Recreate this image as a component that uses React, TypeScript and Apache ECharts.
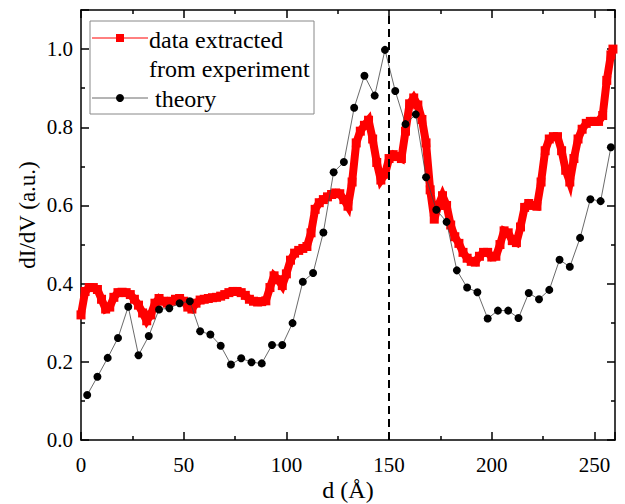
import React, { useEffect, useRef } from "react";
import * as echarts from "echarts";

const expX = [0,2,4,6,8,10,12,14,16,18,20,22,24,26,28,30,32,34,36,38,40,42,44,46,48,50,52,54,56,58,60,62,64,66,68,70,72,74,76,78,80,82,84,86,88,90,92,94,96,98,100,102,104,106,108,110,112,114,116,118,120,122,124,126,128,130,132,134,136,138,140,142,144,146,148,150,152,154,156,158,160,162,164,166,168,170,172,174,176,178,180,182,184,186,188,190,192,194,196,198,200,202,204,206,208,210,212,214,216,218,220,222,224,226,228,230,232,234,236,238,240,242,244,246,248,250,252,254,256,258,259];
const expY = [0.32,0.38,0.39,0.39,0.385,0.36,0.335,0.34,0.365,0.377,0.378,0.377,0.372,0.36,0.345,0.325,0.305,0.32,0.35,0.362,0.355,0.35,0.355,0.36,0.362,0.355,0.34,0.335,0.35,0.358,0.36,0.362,0.364,0.365,0.368,0.372,0.377,0.38,0.38,0.377,0.37,0.36,0.355,0.353,0.354,0.356,0.39,0.42,0.41,0.395,0.425,0.46,0.478,0.485,0.49,0.495,0.53,0.59,0.607,0.615,0.622,0.628,0.632,0.63,0.615,0.598,0.66,0.76,0.79,0.805,0.818,0.77,0.71,0.665,0.68,0.72,0.73,0.725,0.72,0.79,0.86,0.875,0.857,0.82,0.76,0.64,0.565,0.6,0.625,0.6,0.55,0.52,0.503,0.48,0.465,0.457,0.455,0.47,0.48,0.48,0.468,0.47,0.5,0.535,0.53,0.51,0.505,0.545,0.595,0.605,0.6,0.598,0.66,0.74,0.77,0.776,0.776,0.74,0.69,0.66,0.72,0.77,0.795,0.81,0.815,0.815,0.815,0.83,0.92,0.985,1.0];

const theoryX = [3,8,13,18,23,28,33,38,43,48,53,58,63,68,73,78,83,88,93,98,103,108,113,118,123,128,133,138,143,148,153,158,163,168,173,178,183,188,193,198,203,208,213,218,223,228,233,238,243,248,253,258];
const theoryY = [0.115,0.162,0.21,0.261,0.341,0.217,0.266,0.334,0.337,0.35,0.355,0.278,0.27,0.241,0.193,0.209,0.199,0.196,0.243,0.243,0.299,0.405,0.427,0.531,0.685,0.711,0.85,0.932,0.881,0.998,0.893,0.808,0.833,0.672,0.589,0.558,0.434,0.39,0.378,0.311,0.331,0.331,0.312,0.376,0.36,0.384,0.461,0.443,0.517,0.616,0.611,0.749];

const xTicks = [0, 50, 100, 150, 200, 250];
const yTicks = [0, 0.2, 0.4, 0.6, 0.8, 1.0];
const dashedX = 150;
const legendLabels = ["data extracted", "from experiment", " theory"];
const xTitle = "d (Å)";
const yTitle = "dI/dV (a.u.)";

const FONT = "'Liberation Serif', 'Times New Roman', serif";

export default function App() {
  const ref = useRef<HTMLDivElement>(null);
  useEffect(() => {
    if (!ref.current) return;
    const chart = echarts.init(ref.current, null, { renderer: "svg" });
    const axisCommon = {
      axisLine: { show: true, onZero: false, lineStyle: { color: "#000", width: 1.5 } },
      axisTick: { show: true, inside: true, length: 8, lineStyle: { color: "#000", width: 1.5 } },
      minorTick: { show: true, splitNumber: 2, length: 4, lineStyle: { color: "#000", width: 1.5 } },
      splitLine: { show: false },
    };
    chart.setOption({
      animation: false,
      backgroundColor: "#fff",
      grid: { left: 81, right: 10, top: 10, bottom: 64 },
      xAxis: [
        {
          type: "value", min: 0, max: 260, interval: 50, position: "bottom",
          ...axisCommon,
          axisLabel: { color: "#000", fontFamily: FONT, fontSize: 21, margin: 14,
            formatter: (v: number) => (xTicks.includes(v) ? String(v) : "") },
        },
        {
          type: "value", min: 0, max: 260, interval: 50, position: "top",
          ...axisCommon,
          axisLabel: { show: false },
        },
      ],
      yAxis: [
        {
          type: "value", min: 0, max: 1.1, interval: 0.2, position: "left",
          ...axisCommon,
          axisLabel: { color: "#000", fontFamily: FONT, fontSize: 21, margin: 8,
            formatter: (v: number) => (yTicks.some((t) => Math.abs(t - v) < 1e-6) ? v.toFixed(1) : "") },
        },
        {
          type: "value", min: 0, max: 1.1, interval: 0.2, position: "right",
          ...axisCommon,
          axisLabel: { show: false },
        },
      ],
      series: [
        {
          type: "line",
          data: expX.map((x, i) => [x, expY[i]]),
          symbol: "rect",
          symbolSize: 9,
          showAllSymbol: true,
          itemStyle: { color: "#ff0000" },
          lineStyle: { color: "#ff0000", width: 8, join: "miter" },
          z: 2,
        },
        {
          type: "line",
          data: theoryX.map((x, i) => [x, theoryY[i]]),
          symbol: "circle",
          symbolSize: 8,
          showAllSymbol: true,
          itemStyle: { color: "#000" },
          lineStyle: { color: "#444", width: 0.8 },
          z: 3,
          markLine: {
            silent: true,
            symbol: ["none", "none"],
            label: { show: false },
            lineStyle: { color: "#000", width: 2, type: [8, 5] },
            data: [{ xAxis: dashedX }],
          },
        },
      ],
      graphic: [
        { type: "rect", shape: { x: 90, y: 21, width: 224, height: 93 },
          style: { fill: "#fff", stroke: "#888", lineWidth: 1 }, z: 10 },
        { type: "line", shape: { x1: 92, y1: 38, x2: 148, y2: 38 },
          style: { stroke: "#ff0000", lineWidth: 1 }, z: 11 },
        { type: "rect", shape: { x: 116, y: 34, width: 8, height: 8 },
          style: { fill: "#ff0000" }, z: 11 },
        { type: "text", x: 149, y: 40, z: 11,
          style: { text: legendLabels[0], fill: "#000", font: `24px ${FONT}`, verticalAlign: "middle" } },
        { type: "text", x: 149, y: 69, z: 11,
          style: { text: legendLabels[1], fill: "#000", font: `24px ${FONT}`, verticalAlign: "middle" } },
        { type: "line", shape: { x1: 92, y1: 98, x2: 148, y2: 98 },
          style: { stroke: "#444", lineWidth: 0.8 }, z: 11 },
        { type: "circle", shape: { cx: 120, cy: 98, r: 4 },
          style: { fill: "#000" }, z: 11 },
        { type: "text", x: 149, y: 99, z: 11,
          style: { text: legendLabels[2], fill: "#000", font: `24px ${FONT}`, verticalAlign: "middle" } },
        { type: "text", x: 348, y: 490, z: 11,
          style: { text: xTitle, fill: "#000", font: `24px ${FONT}`, align: "center", verticalAlign: "middle" } },
        { type: "text", x: 27, y: 215, rotation: Math.PI / 2, z: 11,
          style: { text: yTitle, fill: "#000", font: `23px ${FONT}`, align: "center", verticalAlign: "middle" } },
      ],
    });
    return () => chart.dispose();
  }, []);
  return <div ref={ref} style={{ position: "fixed", left: 0, top: 0, width: 625, height: 504 }} />;
}
